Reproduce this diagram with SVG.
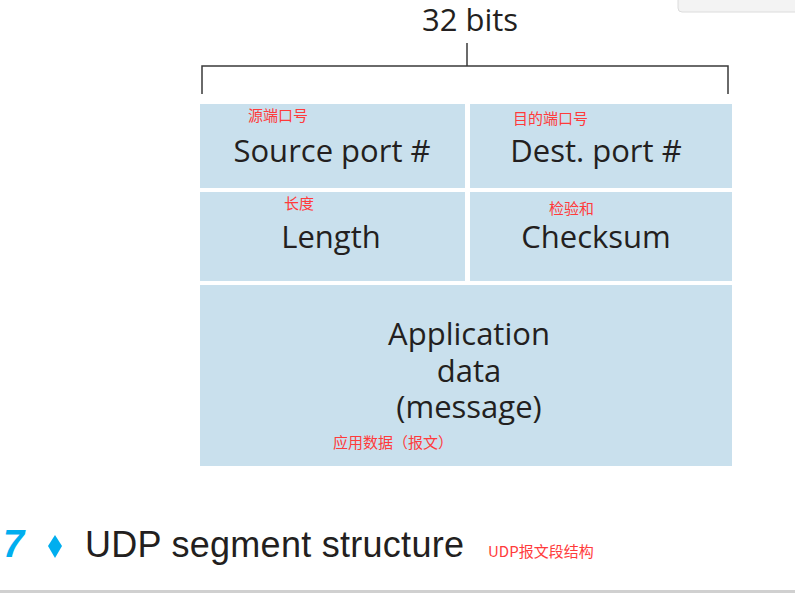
<svg xmlns="http://www.w3.org/2000/svg" width="795" height="593" viewBox="0 0 795 593">
<defs>
<style>
.box{fill:#c9e0ed;}
.main{font-family:"Open Sans","Noto Sans",sans-serif;font-size:31px;fill:#231f20;text-anchor:middle;}
.cn{font-family:"Noto Sans CJK SC","Noto Sans",sans-serif;font-size:15px;fill:#ff3b3b;}
.br{stroke:#3a3a3a;stroke-width:1.5;fill:none;}
</style>
</defs>
<rect width="795" height="593" fill="#ffffff"/>
<rect x="678" y="-10" width="130" height="22" rx="4" fill="#f3f3f3" stroke="#dcdcdc"/>
<text x="470" y="31" style="font-family:'Open Sans','Noto Sans',sans-serif;font-size:31px;fill:#231f20;text-anchor:middle">32 bits</text>
<g id="connectors">
<path class="br" d="M202,94 V66 H728 V94"/>
<path class="br" d="M467,43 V66"/>
</g>
<g id="source-port">
<rect class="box" x="200" y="104" width="265" height="84"/>
<text class="cn" x="248" y="121">源端口号</text>
<text class="main" x="332" y="162">Source port #</text>
</g>
<g id="dest-port">
<rect class="box" x="470" y="104" width="262" height="84"/>
<text class="cn" x="513" y="124">目的端口号</text>
<text class="main" x="596" y="162">Dest. port #</text>
</g>
<g id="length">
<rect class="box" x="200" y="192" width="265" height="89"/>
<text class="cn" x="284" y="209">长度</text>
<text class="main" x="331" y="248">Length</text>
</g>
<g id="checksum">
<rect class="box" x="470" y="192" width="262" height="89"/>
<text class="cn" x="549" y="214">检验和</text>
<text class="main" x="596" y="248">Checksum</text>
</g>
<g id="app-data">
<rect class="box" x="200" y="285" width="532" height="181"/>
<text class="main" x="469" y="345">Application</text>
<text class="main" x="469" y="382">data</text>
<text class="main" x="469" y="418">(message)</text>
<text class="cn" x="333" y="448">应用数据（报文）</text>
</g>
<g id="caption">
<text x="3" y="557" style="font-family:'Liberation Sans',sans-serif;font-size:38px;font-weight:bold;font-style:italic;fill:#00aeef">7</text>
<polygon points="55,535 62,546 55,558 48,546" fill="#00aeef"/>
<text x="85" y="557" textLength="379" style="font-family:'Liberation Sans',sans-serif;font-size:36px;fill:#231f20">UDP segment structure</text>
<text class="cn" x="488" y="557">UDP报文段结构</text>
</g>
<rect x="0" y="590" width="795" height="3" fill="#d0d0d0"/>
</svg>
